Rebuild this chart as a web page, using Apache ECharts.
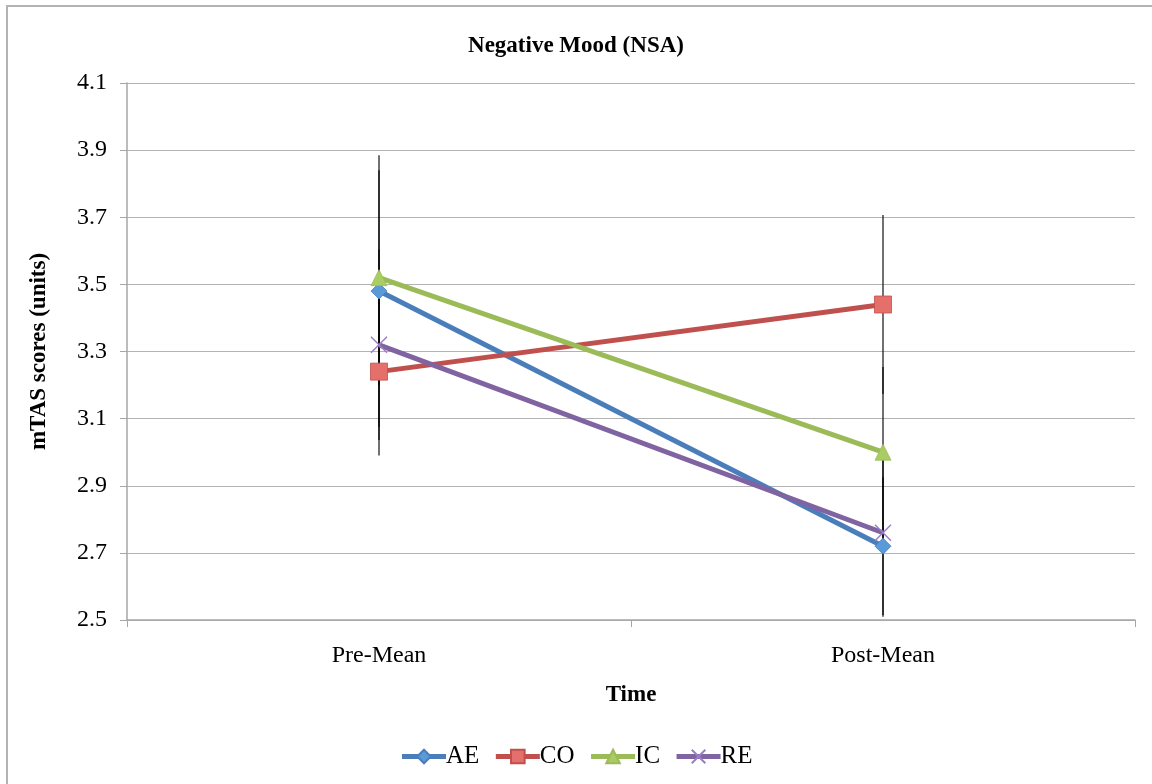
<!DOCTYPE html>
<html>
<head>
<meta charset="utf-8">
<script src="https://cdn.jsdelivr.net/npm/echarts@6/dist/echarts.min.js"></script>
<style>
  html, body { margin: 0; padding: 0; background: #fff; }
  #chart { width: 1152px; height: 784px; }
</style>
</head>
<body>
<div id="chart"></div>
<script>
// categories and values
const times = ['Pre-Mean', 'Post-Mean']
const groups = ['AE', 'CO', 'IC', 'RE']
const aeMeans = [3.48, 2.72]
const coMeans = [3.24, 3.44]
const icMeans = [3.52, 3.00]
const reMeans = [3.32, 2.76]
// half-length of each error bar (no caps in the original)
const aeErr = [0.405, 0.205]
const coErr = [0.25, 0.267]
const icErr = [0.32, 0.254]
const reErr = [0.284, 0.25]

const colors = ['#4a7ebb', '#c0504d', '#9bbb59', '#8064a2']
const fills = ['#5b9ad9', '#e46f6b', '#a9cc63', '#9a7ec6']
const symbols = ['diamond', 'rect', 'triangle', 'path://M0,0 L10,10 M10,0 L0,10']
const means = [aeMeans, coMeans, icMeans, reMeans]
const errs = [aeErr, coErr, icErr, reErr]

const font = 'Liberation Serif'

let mychart = echarts.init(document.getElementById('chart'))

let series = []
groups.forEach((g, i) => {
  series.push({
    name: g,
    type: 'line',
    data: means[i],
    symbol: symbols[i],
    symbolSize: i === 1 ? 17 : 16,
    z: 3,
    lineStyle: { color: colors[i], width: 5 },
    itemStyle: i === 3
      ? { color: fills[i], borderColor: fills[i], borderWidth: 1.5 }
      : { color: fills[i], borderColor: colors[i], borderWidth: 0.8 }
  })
})

// error bars drawn with a custom series, one per group
groups.forEach((g, i) => {
  series.push({
    name: g + '-err',
    type: 'custom',
    z: 2,
    silent: true,
    data: means[i].map((m, k) => [k, m - errs[i][k], m + errs[i][k]]),
    renderItem(params, api) {
      const lo = api.coord([api.value(0), api.value(1)])
      const hi = api.coord([api.value(0), api.value(2)])
      return {
        type: 'line',
        shape: { x1: lo[0], y1: lo[1], x2: hi[0], y2: hi[1] },
        style: { stroke: '#000', lineWidth: 1.5, opacity: 0.75 }
      }
    }
  })
})

mychart.setOption({
  animation: false,
  backgroundColor: '#fff',
  graphic: [{
    type: 'rect',
    shape: { x: 7, y: 6, width: 1300, height: 900 },
    style: { fill: 'none', stroke: '#b3b3b3', lineWidth: 2 },
    silent: true
  }],
  title: {
    text: 'Negative Mood (NSA)',
    left: 'center',
    top: 30,
    textStyle: { fontFamily: font, fontSize: 23, fontWeight: 'bold', color: '#000' }
  },
  legend: {
    data: groups,
    bottom: 10,
    left: 'center',
    itemGap: 14,
    itemWidth: 44,
    itemHeight: 17,
    lineStyle: { width: 5 },
    textStyle: { fontFamily: font, fontSize: 25, color: '#000', padding: [0, 0, 0, -5] }
  },
  grid: { left: 127, right: 17, top: 83, bottom: 164 },
  xAxis: {
    type: 'category',
    data: times,
    name: 'Time',
    nameLocation: 'middle',
    nameGap: 64,
    nameTextStyle: { fontFamily: font, fontSize: 23, fontWeight: 'bold', color: '#000' },
    axisLine: { lineStyle: { color: '#a6a6a6', width: 1.5 } },
    axisTick: { show: true, length: 7, lineStyle: { color: '#a6a6a6' } },
    axisLabel: { fontFamily: font, fontSize: 24, color: '#000', margin: 24 }
  },
  yAxis: {
    type: 'value',
    min: 2.5,
    max: 4.1,
    interval: 0.2,
    name: 'mTAS scores (units)',
    nameLocation: 'middle',
    nameGap: 76,
    nameTextStyle: { fontFamily: font, fontSize: 23, fontWeight: 'bold', color: '#000' },
    axisLine: { show: true, lineStyle: { color: '#a6a6a6', width: 1.5 } },
    axisTick: { show: true, length: 7, lineStyle: { color: '#a6a6a6' } },
    splitLine: { lineStyle: { color: '#b3b3b3', width: 1.2 } },
    axisLabel: {
      fontFamily: font, fontSize: 24, color: '#000', margin: 20,
      formatter: v => v.toFixed(1)
    }
  },
  series: series
})
</script>
</body>
</html>
